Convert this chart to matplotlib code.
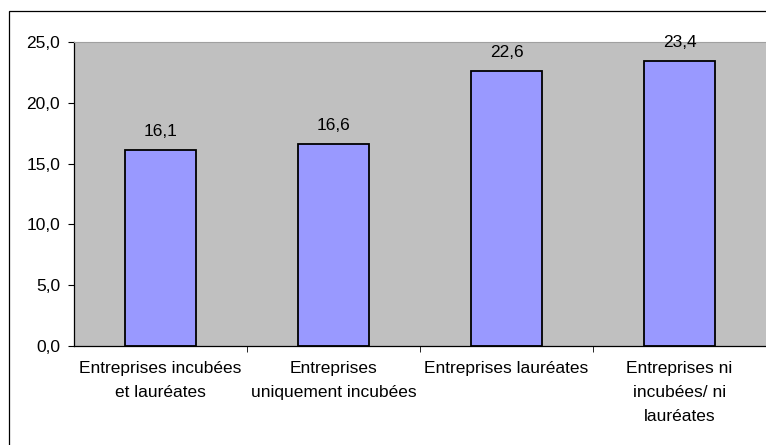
import matplotlib.pyplot as plt
from matplotlib.patches import Rectangle
import numpy as np

categories = ['Entreprises incubées\net lauréates',
              'Entreprises\nuniquement incubées',
              'Entreprises lauréates',
              'Entreprises ni\nincubées/ ni\nlauréates']
values = [16.1, 16.6, 22.6, 23.4]


def fmt(v):
    return f'{v:.1f}'.replace('.', ',')


def main():
    plt.rcParams['font.family'] = ['Liberation Sans', 'DejaVu Sans']
    fig = plt.figure(figsize=(7.66, 4.45), dpi=100)
    ax = fig.add_axes([74 / 766, 1 - 346 / 445, 1 - 74 / 766, (346 - 42) / 445])

    # cadre extérieur
    fig.patches.append(Rectangle((9 / 766, -0.1), 1.2, 1 - 11 / 445 + 0.1,
                                 transform=fig.transFigure, fill=False,
                                 edgecolor='black', linewidth=0.9))

    fs = 12.5
    x = np.arange(len(categories))
    ax.bar(x, values, width=0.405, color='#9999FF', edgecolor='black', linewidth=1.3, zorder=2)
    for xi, v in zip(x, values):
        ax.annotate(fmt(v), (xi, v), xytext=(0, 8), textcoords='offset points',
                    ha='center', va='bottom', fontsize=fs)

    ax.set_facecolor('#C0C0C0')
    ax.set_xlim(-0.5, 3.5)
    ax.set_ylim(0, 25)
    ax.set_yticks(np.arange(0, 26, 5))
    ax.set_yticklabels([fmt(v) for v in np.arange(0, 26, 5)], fontsize=fs)
    ax.set_xticks(x)
    ax.set_xticklabels(categories, fontsize=fs, linespacing=1.75)
    ax.tick_params(axis='x', length=0, pad=11)
    ax.set_xticks(np.arange(0.5, 3.5, 1), minor=True)
    ax.tick_params(axis='x', which='minor', length=4, direction='out')
    ax.tick_params(axis='y', length=4, pad=6)
    ax.spines['top'].set_color('#A0A0A0')
    ax.spines['right'].set_visible(False)
    ax.spines['left'].set_linewidth(0.9)
    ax.spines['bottom'].set_linewidth(0.9)

    fig.savefig('out.png', dpi=100)


if __name__ == "__main__":
    main()
